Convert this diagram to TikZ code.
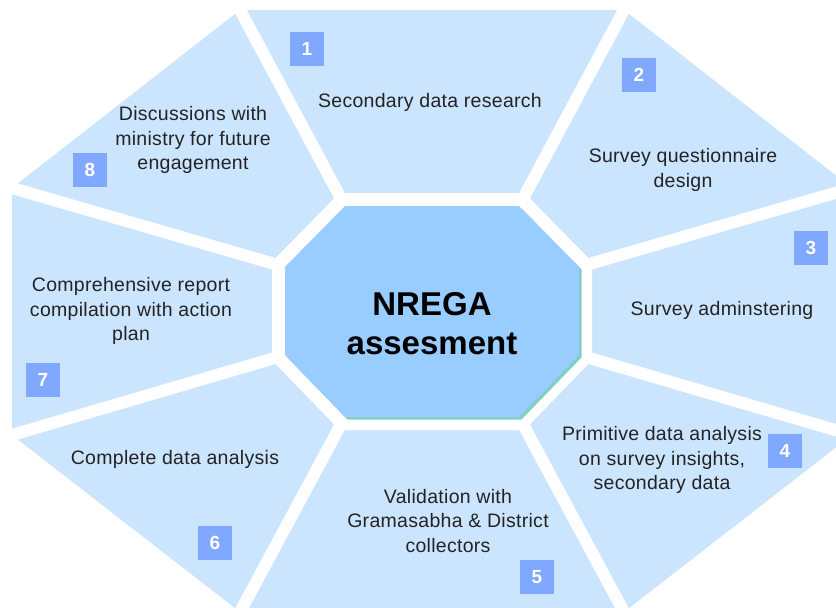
\documentclass[tikz,border=0pt]{standalone}
\usepackage{fontspec}
\setmainfont{Liberation Sans}
\newfontfamily\lblfont[LetterSpace=1.5]{Liberation Sans}
\usetikzlibrary{calc}
\definecolor{segblue}{RGB}{204,229,255}
\definecolor{coreblue}{RGB}{153,204,255}
\definecolor{boxblue}{RGB}{128,168,255}
\definecolor{shadowteal}{RGB}{128,208,200}
\definecolor{txt}{RGB}{35,35,35}
\begin{document}
\begin{tikzpicture}[x=1pt,y=-1pt,
  gapline/.style={white,line width=12pt,line cap=butt},
  lbl/.style={font=\lblfont\fontsize{19.5}{24.5}\selectfont, align=center, text=txt, inner sep=0pt},
  numbox/.style={fill=boxblue, minimum size=34pt, inner sep=0pt, text=white, font=\fontsize{19}{19}\bfseries\selectfont}]
\useasboundingbox (0,0) rectangle (836,608);
\clip (0,0) rectangle (836,608);
% inner octagon vertices
\coordinate (iA) at (345,206);
\coordinate (iB) at (519,206);
\coordinate (iC) at (579,267);
\coordinate (iD) at (579,355);
\coordinate (iE) at (519,417);
\coordinate (iF) at (345,417);
\coordinate (iG) at (285,355);
\coordinate (iH) at (285,267);
% outer octagon vertices
\coordinate (oA) at (240,10);
\coordinate (oB) at (624,10);
\coordinate (oC) at (852,188);
\coordinate (oD) at (852,435);
\coordinate (oE) at (624,612);
\coordinate (oF) at (240,612);
\coordinate (oG) at (12,435);
\coordinate (oH) at (12,188);
% segments
\fill[segblue] (oA)--(oB)--(oC)--(oD)--(oE)--(oF)--(oG)--(oH)--cycle;
\foreach \i/\o in {iA/oA,iB/oB,iC/oC,iD/oD,iE/oE,iF/oF,iG/oG,iH/oH}
  \draw[gapline] (\i) -- ($(\i)!1.6!(\o)$);
\draw[white,line width=26pt,line join=miter] (iA)--(iB)--(iC)--(iD)--(iE)--(iF)--(iG)--(iH)--cycle;
% core octagon with shadow
\fill[shadowteal] ([shift={(2.5,2.5)}]iA)--([shift={(2.5,2.5)}]iB)--([shift={(2.5,2.5)}]iC)--([shift={(2.5,2.5)}]iD)--([shift={(2.5,2.5)}]iE)--([shift={(2.5,2.5)}]iF)--([shift={(2.5,2.5)}]iG)--([shift={(2.5,2.5)}]iH)--cycle;
\fill[coreblue] (iA)--(iB)--(iC)--(iD)--(iE)--(iF)--(iG)--(iH)--cycle;
\node[font=\fontsize{33}{39}\bfseries\selectfont, align=center, text=black, inner sep=0pt] (core) at (432,324) {NREGA\\assesment};
% labels
\node[lbl] (t1) at (430,102) {Secondary data research};
\node[lbl] (t2) at (683,170) {Survey questionnaire\\design};
\node[lbl] (t3) at (722,310) {Survey adminstering};
\node[lbl] (t4) at (662,460) {Primitive data analysis\\on survey insights,\\secondary data};
\node[lbl] (t5) at (448,521) {Validation with\\Gramasabha \& District\\collectors};
\node[lbl] (t6) at (175,459) {Complete data analysis};
\node[lbl] (t7) at (131,311) {Comprehensive report\\compilation with action\\plan};
\node[lbl] (t8) at (193,140) {Discussions with\\ministry for future\\engagement};
% number boxes
\node[numbox] (n1) at (307,49) {1};
\node[numbox] (n2) at (639,75) {2};
\node[numbox] (n3) at (811,248) {3};
\node[numbox] (n4) at (785,451) {4};
\node[numbox] (n5) at (537,577) {5};
\node[numbox] (n6) at (215,543) {6};
\node[numbox] (n7) at (43,380) {7};
\node[numbox] (n8) at (90,170) {8};
\end{tikzpicture}
\end{document}
